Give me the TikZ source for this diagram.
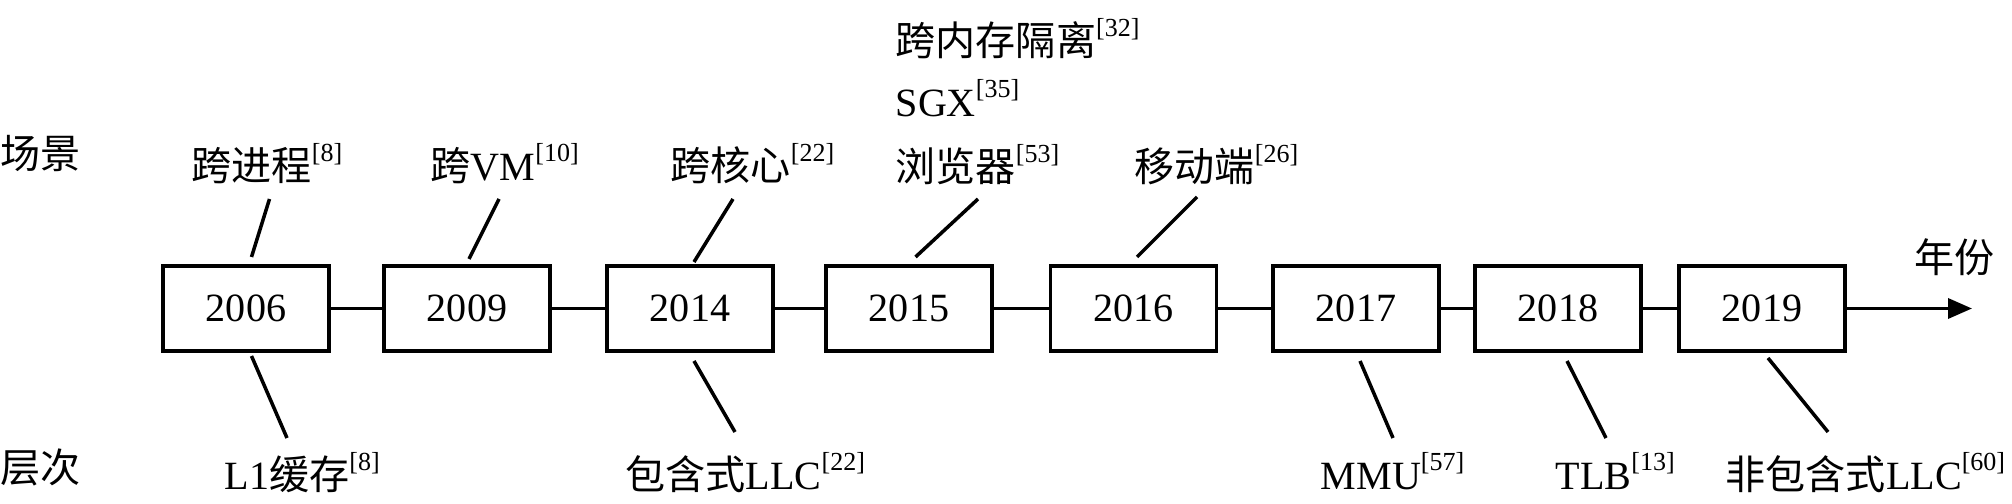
\documentclass[tikz,border=0pt]{standalone}
\usepackage{fontspec}
\setmainfont{Liberation Serif}
\newfontfamily\cjkfont{Noto Sans CJK SC}
\usetikzlibrary{arrows.meta}
\newcommand\zh[1]{{\cjkfont #1}}
\newcommand\rf[1]{\raisebox{5.5pt}{\fontsize{7.4}{7.4}\selectfont[#1]}}
\begin{document}
\begin{tikzpicture}[x=0.01cm,y=-0.01cm,
  font=\fontsize{11.4}{13}\selectfont,
  yearbox/.style={draw, line width=1pt, minimum width=1.66cm, minimum height=0.85cm, inner sep=0pt},
  lbl/.style={anchor=base west, inner sep=0pt},
  conn/.style={line width=1pt}]
\useasboundingbox (0,0) rectangle (2012,504);
% year boxes
\node[yearbox] (b2006) at (246,308.5) {2006};
\node[yearbox] (b2009) at (467,308.5) {2009};
\node[yearbox] (b2014) at (690,308.5) {2014};
\node[yearbox] (b2015) at (909,308.5) {2015};
\node[yearbox] (b2016) at (1133.5,308.5) {2016};
\node[yearbox] (b2017) at (1356,308.5) {2017};
\node[yearbox] (b2018) at (1558,308.5) {2018};
\node[yearbox] (b2019) at (1762,308.5) {2019};
\coordinate (tip) at (1972,308.5);
\draw[conn] (b2006) -- (b2009);
\draw[conn] (b2009) -- (b2014);
\draw[conn] (b2014) -- (b2015);
\draw[conn] (b2015) -- (b2016);
\draw[conn] (b2016) -- (b2017);
\draw[conn] (b2017) -- (b2018);
\draw[conn] (b2018) -- (b2019);
\draw[conn,-{Triangle[length=0.24cm,width=0.2cm]}] (b2019) -- (tip);
% side labels
\node[lbl] (cj) at (0,169) {\zh{场景}};
\node[lbl] (cc) at (0,483) {\zh{层次}};
\node[lbl] (nf) at (1914,273) {\zh{年份}};
% top labels
\node[lbl] (s1) at (191,181) {\zh{跨进程}\rf{8}};
\node[lbl] (s2) at (430,181) {\zh{跨}VM\rf{10}};
\node[lbl] (s3) at (670,181) {\zh{跨核心}\rf{22}};
\node[lbl] (s4a) at (895,56) {\zh{跨内存隔离}\rf{32}};
\node[lbl] (s4b) at (895,117) {SGX\rf{35}};
\node[lbl] (s4c) at (895,182) {\zh{浏览器}\rf{53}};
\node[lbl] (s5) at (1134,182) {\zh{移动端}\rf{26}};
% bottom labels
\node[lbl] (l1) at (224,490) {L1\zh{缓存}\rf{8}};
\node[lbl] (l2) at (625,490) {\zh{包含式}LLC\rf{22}};
\node[lbl] (l3) at (1320,490) {MMU\rf{57}};
\node[lbl] (l4) at (1555,490) {TLB\rf{13}};
\node[lbl] (l5) at (1725,490) {\zh{非包含式}LLC\rf{60}};
% connector end points
\coordinate (t1a) at (269.5,199); \coordinate (t1b) at (251.5,257);
\coordinate (u1a) at (251.5,356); \coordinate (u1b) at (287,438);
\coordinate (t2a) at (499,199);   \coordinate (t2b) at (469,259);
\coordinate (t3a) at (733,199);   \coordinate (t3b) at (694,262);
\coordinate (u3a) at (694,361);   \coordinate (u3b) at (735,432);
\coordinate (t4a) at (978,199);   \coordinate (t4b) at (915.5,257);
\coordinate (t5a) at (1197,197);  \coordinate (t5b) at (1137,257);
\coordinate (u6a) at (1360,361);  \coordinate (u6b) at (1393,438);
\coordinate (u7a) at (1567,361);  \coordinate (u7b) at (1606,438);
\coordinate (u8a) at (1768,358);  \coordinate (u8b) at (1828,432);
\draw[conn] (t1a) -- (t1b);
\draw[conn] (u1a) -- (u1b);
\draw[conn] (t2a) -- (t2b);
\draw[conn] (t3a) -- (t3b);
\draw[conn] (u3a) -- (u3b);
\draw[conn] (t4a) -- (t4b);
\draw[conn] (t5a) -- (t5b);
\draw[conn] (u6a) -- (u6b);
\draw[conn] (u7a) -- (u7b);
\draw[conn] (u8a) -- (u8b);
\end{tikzpicture}
\end{document}
